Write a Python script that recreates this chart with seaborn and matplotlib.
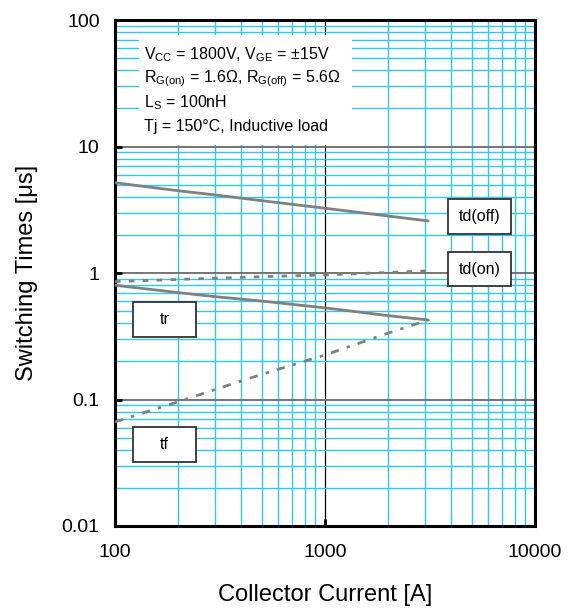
import numpy as np
import pandas as pd
import matplotlib
matplotlib.use("Agg")
import matplotlib.pyplot as plt
from matplotlib.patches import Rectangle
from matplotlib.ticker import LogLocator, FixedLocator, NullFormatter
import seaborn as sns

# ---- data ----
current = [100, 200, 300, 500, 1000, 2000, 3100]
td_off = [5.17, 4.47, 4.14, 3.73, 3.25, 2.82, 2.58]
td_on = [0.855, 0.89, 0.91, 0.935, 0.965, 1.01, 1.04]
tr = [0.80, 0.70, 0.65, 0.60, 0.53, 0.46, 0.425]
tf = [0.0665, 0.096, 0.12, 0.158, 0.225, 0.335, 0.425]

x_ticks = [100, 1000, 10000]
x_ticklabels = ["100", "1000", "10000"]
y_ticks = [0.01, 0.1, 1, 10, 100]
y_ticklabels = ["0.01", "0.1", "1", "10", "100"]

cond_lines = [
    r"V$_{\mathregular{CC}}$ = 1800V, V$_{\mathregular{GE}}$ = ±15V",
    r"R$_{\mathregular{G(on)}}$ = 1.6Ω, R$_{\mathregular{G(off)}}$ = 5.6Ω",
    r"L$_{\mathregular{S}}$ = 100nH",
    "Tj = 150°C, Inductive load",
]

sns.set_theme(style="white")
plt.rcParams["font.family"] = ["Liberation Sans", "DejaVu Sans"]
plt.rcParams["mathtext.fontset"] = "custom"
plt.rcParams["mathtext.rm"] = "Liberation Sans"
plt.rcParams["text.color"] = "black"
plt.rcParams["axes.labelcolor"] = "black"
plt.rcParams["xtick.color"] = "black"
plt.rcParams["ytick.color"] = "black"

fig = plt.figure(figsize=(5.73, 6.12), dpi=100)
ax = fig.add_axes([115 / 573, 1 - 526 / 612, 420 / 573, 506 / 612])

gray = "#808080"
df = pd.DataFrame({"I": current, "td_off": td_off, "td_on": td_on, "tr": tr, "tf": tf})
sns.lineplot(data=df, x="I", y="td_off", ax=ax, color=gray, lw=2.0, zorder=5)
sns.lineplot(data=df, x="I", y="tr", ax=ax, color=gray, lw=2.0, zorder=5)
sns.lineplot(data=df, x="I", y="td_on", ax=ax, color=gray, lw=2.0, zorder=5)
ax.lines[-1].set_dashes([2.0, 3.0])
sns.lineplot(data=df, x="I", y="tf", ax=ax, color=gray, lw=2.0, zorder=5)
ax.lines[-1].set_dashes([3.0, 3.0, 1.2, 3.0])

ax.set_xscale("log")
ax.set_yscale("log")
ax.set_xlim(100, 10000)
ax.set_ylim(0.01, 100)

ax.xaxis.set_major_locator(FixedLocator(x_ticks))
ax.set_xticklabels(x_ticklabels)
ax.yaxis.set_major_locator(FixedLocator(y_ticks))
ax.set_yticklabels(y_ticklabels)
ax.xaxis.set_minor_locator(LogLocator(base=10, subs=np.arange(2, 10)))
ax.yaxis.set_minor_locator(LogLocator(base=10, subs=np.arange(2, 10)))
ax.xaxis.set_minor_formatter(NullFormatter())
ax.yaxis.set_minor_formatter(NullFormatter())

cyan = "#30c8f0"
ax.grid(which="minor", color=cyan, lw=1.0, zorder=1)
ax.grid(which="major", axis="x", color="black", lw=0.9)
ax.grid(which="major", axis="y", color="#6a6a6a", lw=1.3)
ax.set_axisbelow(True)

ax.tick_params(which="major", direction="in", length=5, width=2, color="black",
               labelcolor="black", labelsize=14, bottom=True, left=True, top=False, right=False)
ax.tick_params(axis="x", pad=13)
ax.tick_params(axis="y", pad=11)
ax.tick_params(which="minor", length=0)

for s in ax.spines.values():
    s.set_color("black")
    s.set_linewidth(2.2)
    s.set_visible(True)

ax.set_xlabel("Collector Current [A]", fontsize=17, color="black")
ax.set_ylabel("Switching Times [μs]", fontsize=17, color="black")
ax.xaxis.set_label_coords(0.5, -0.115)
ax.yaxis.set_label_coords(-0.183, 0.5)

# conditions box
W, H = 420.0, 506.0
def ax_x(px):
    return (px - 115) / W
def ax_y(py):
    return (526 - py) / H

ax.add_patch(Rectangle((ax_x(139), ax_y(145)), ax_x(352) - ax_x(139), ax_y(35) - ax_y(145),
                       transform=ax.transAxes, facecolor="white", edgecolor="none", zorder=3))
for i, t in enumerate(cond_lines):
    ax.text(ax_x(144), ax_y(55 + i * 23.7), t, transform=ax.transAxes, fontsize=11.5,
            ha="left", va="center", zorder=6, color="black")

# curve label boxes
labels = [
    ("td(off)", 448, 511, 199, 234),
    ("td(on)", 448, 511, 252, 286),
    ("tr", 133, 196, 302, 337),
    ("tf", 133, 196, 427, 462),
]
for txt, x0, x1, y0, y1 in labels:
    ax.add_patch(Rectangle((ax_x(x0), ax_y(y1)), ax_x(x1) - ax_x(x0), ax_y(y0) - ax_y(y1),
                           transform=ax.transAxes, facecolor="white", edgecolor="#333333",
                           lw=1.3, zorder=6))
    ax.text((ax_x(x0) + ax_x(x1)) / 2, (ax_y(y0) + ax_y(y1)) / 2, txt, transform=ax.transAxes,
            fontsize=11.5, ha="center", va="center", zorder=7, color="black")

fig.savefig("out.png", dpi=100)
